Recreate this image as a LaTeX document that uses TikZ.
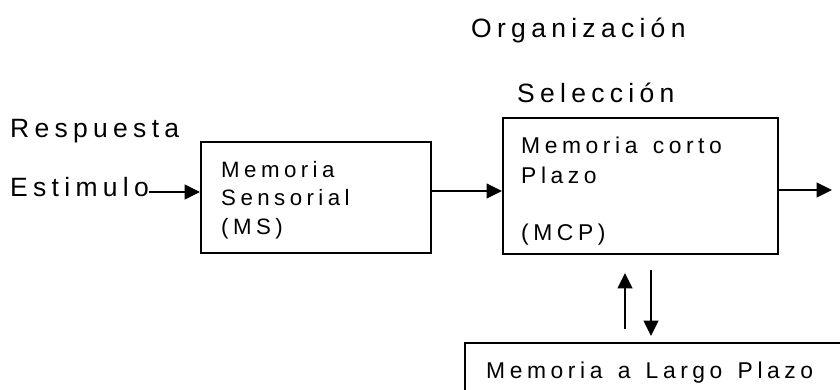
\documentclass[tikz,border=0pt]{standalone}
\usepackage{fontspec}
\setmainfont{Liberation Sans}[LetterSpace=20, WordSpace=1.4]
\usepackage{tikz}
\usetikzlibrary{arrows.meta}
\usetikzlibrary{calc}
\usetikzlibrary{fit}
\usetikzlibrary{positioning}

\tikzset{
	etiqueta/.style={anchor=base west, inner sep=0pt, font=\fontsize{22.6pt}{26pt}\selectfont},
	texto/.style={anchor=base west, inner sep=0pt, font=\fontsize{19.5pt}{23pt}\selectfont},
	caja/.style={draw, line width=1.7pt, inner sep=0pt},
	flecha/.style={line width=1.7pt, -{Triangle[length=0.46cm, width=0.44cm]}}
}

\begin{document}
\begin{tikzpicture}
	[x=0.03cm, y=-0.03cm]
	\useasboundingbox (0,0) rectangle (840,389);
	\clip (0,0) rectangle (840,389);
	% etiquetas de fuera
	\node[etiqueta] (organizacion) at (471,37) {Organización};
	\node[etiqueta] (seleccion) at (517,102) {Selección};
	\node[etiqueta] (respuesta) at (10,137) {Respuesta};
	\node[etiqueta] (estimulo) at (10,196) {Estimulo};
	% cajas
	\node[caja, fit={(201,142) (431,253)}] (ms) {};
	\node[caja, fit={(503,118) (778,254)}] (mcp) {};
	\node[caja, fit={(465,343) (880,430)}] (mlp) {};
	% textos de las cajas
	\node[texto, font=\fontsize{19pt}{23pt}\selectfont] (ms1) at (221,177) {Memoria};
	\node[texto, font=\fontsize{19pt}{23pt}\selectfont] (ms2) at (221,205) {Sensorial};
	\node[texto, font=\fontsize{19pt}{23pt}\selectfont] (ms3) at (221,234) {(MS)};
	\node[texto] (mcp1) at (521,153) {Memoria corto};
	\node[texto] (mcp2) at (521,183) {Plazo};
	\node[texto] (mcp3) at (521,240) {(MCP)};
	\node[texto] (mlp1) at (486,378) {Memoria a Largo Plazo};
	% flechas
	\coordinate (salida) at (832,190);
	\draw[flecha] (estimulo.east |- 0,192) -- (ms.west |- 0,192);
	\draw[flecha] (ms.east |- 0,191) -- (mcp.west |- 0,191);
	\draw[flecha] (mcp.east |- salida) -- (salida);
	\draw[flecha] ($(mcp.south)+(-15.5,74)$) -- ($(mcp.south)+(-15.5,18)$);
	\draw[flecha] ($(mcp.south)+(10.5,15)$) -- ($(mcp.south)+(10.5,81)$);
\end{tikzpicture}
\end{document}
